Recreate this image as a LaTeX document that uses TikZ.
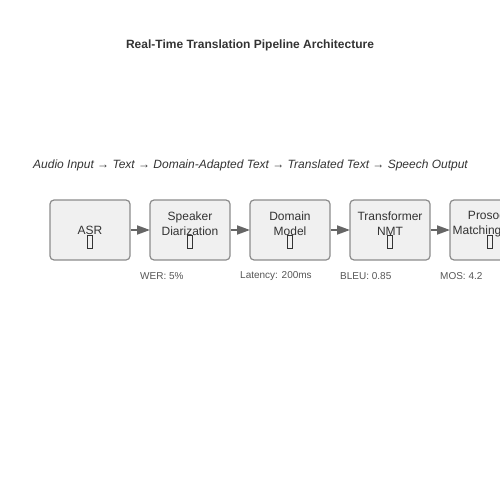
\documentclass[tikz,border=0pt]{standalone}
\usepackage{fontspec}
\setmainfont{Liberation Sans}
\usetikzlibrary{arrows.meta}
\definecolor{boxfill}{HTML}{F0F0F0}
\definecolor{boxline}{HTML}{8C8C8C}
\definecolor{txt}{HTML}{333333}
\definecolor{lbl}{HTML}{555555}
\definecolor{arr}{HTML}{666666}
\begin{document}
\begin{tikzpicture}[x=1pt,y=-1pt,
  stage/.style={draw=boxline, line width=1.2pt, fill=boxfill, rounded corners=4pt, minimum width=80pt, minimum height=60pt, inner sep=0pt},
  stagetext/.style={text=txt, font=\fontsize{12}{15}\selectfont, align=center, inner sep=0pt},
  tofu/.style={draw=txt, line width=0.6pt, minimum width=4.5pt, minimum height=13pt, inner sep=0pt},
  metric/.style={text=lbl, font=\fontsize{10}{12}\selectfont, anchor=west, inner sep=0pt},
  flow/.style={draw=arr, line width=1.8pt, -{Triangle[length=13pt,width=9pt]}, shorten >=-0.6pt}
]
\useasboundingbox (0,0) rectangle (500,500);
\clip (0,0) rectangle (500,500);
\node[text=txt, font=\bfseries\fontsize{12}{14}\selectfont] (title) at (250,45) {Real-Time Translation Pipeline Architecture};
\node[text=txt, font=\itshape\fontsize{12}{14}\selectfont] (flowline) at (250.5,165.5) {Audio Input → Text → Domain-Adapted Text → Translated Text → Speech Output};

\node[stage] (b1) at (90,230) {};
\node[stage] (b2) at (190,230) {};
\node[stage] (b3) at (290,230) {};
\node[stage] (b4) at (390,230) {};
\node[stage] (b5) at (490,230) {};

\node[stagetext] (t1) at (90,230.5) {ASR};
\node[stagetext] (t2) at (190,223.5) {Speaker\\Diarization};
\node[stagetext] (t3) at (290,223.5) {Domain\\Model};
\node[stagetext] (t4) at (390,223.5) {Transformer\\NMT};
\node[stagetext] (t5) at (490,223.5) {Prosody\\Matching TTS};

\node[tofu] (i1) at (90,241.5) {};
\node[tofu] (i2) at (190,241.5) {};
\node[tofu] (i3) at (290,241.5) {};
\node[tofu] (i4) at (390,241.5) {};
\node[tofu] (i5) at (490,241.5) {};

\draw[flow] (b1) -- (b2);
\draw[flow] (b2) -- (b3);
\draw[flow] (b3) -- (b4);
\draw[flow] (b4) -- (b5);

\node[metric] (m2) at (140,276.5) {WER: 5\%};
\node[metric] (m3) at (240,276.5) {Latency: 200ms};
\node[metric] (m4) at (340,276.5) {BLEU: 0.85};
\node[metric] (m5) at (440,276.5) {MOS: 4.2};
\end{tikzpicture}
\end{document}
